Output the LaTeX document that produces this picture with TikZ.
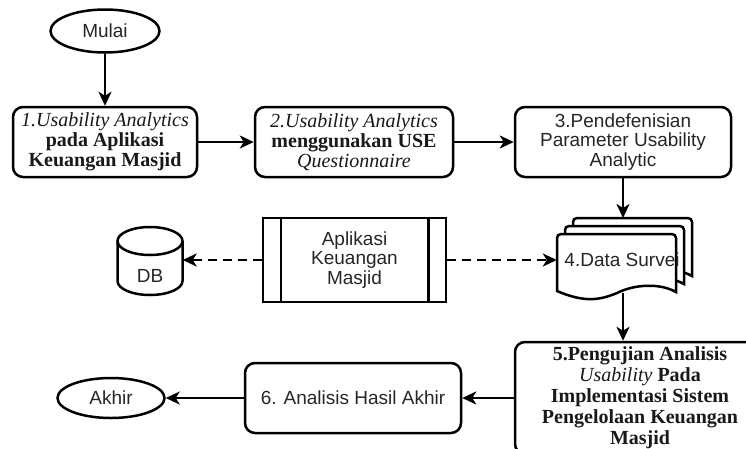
\documentclass[tikz,border=0pt]{standalone}
\usepackage{fontspec}
\setmainfont{Liberation Serif}
\setsansfont{Liberation Sans}
\usetikzlibrary{arrows.meta,shapes.geometric,calc}
\newcommand\itl[1]{{\mdseries\itshape #1}}
\begin{document}
\begin{tikzpicture}[x=1pt,y=-1pt,
  lw/.style={line width=2.5pt},
  box/.style={draw, lw, rounded corners=10pt, align=center, inner sep=0pt},
  serif/.style={font=\fontsize{20}{20}\selectfont\rmfamily\bfseries, text=black!90},
  sans/.style={font=\fontsize{19}{19.5}\selectfont\sffamily, text=black!85},
  term/.style={draw, lw, ellipse, inner sep=0pt, sans},
  arr/.style={lw, -{Stealth[length=14pt,width=13pt,inset=4pt]}},
  darr/.style={arr, dash pattern=on 9pt off 6pt},
]
\useasboundingbox[fill=white] (0,0) rectangle (746,448);

% terminals
\node[term, minimum width=109pt, minimum height=43pt] (start) at (105,31) {Mulai};
\node[term, minimum width=107pt, minimum height=40pt] (stop) at (111,398) {Akhir};

% process boxes
\node[box, serif, minimum width=184pt, minimum height=70pt] (b1) at (105,142)
  {\itl{1.Usability Analytics}\\pada Aplikasi\\Keuangan Masjid};
\node[box, serif, minimum width=198pt, minimum height=70pt] (b2) at (354,142)
  {\itl{2.Usability Analytics}\\menggunakan USE\\\itl{Questionnaire}};
\node[box, sans, minimum width=216pt, minimum height=70pt] (b3) at (623,142)
  {3.Pendefenisian\\Parameter Usability\\Analytic};
\node[box, serif, font=\fontsize{20}{21}\selectfont\rmfamily\bfseries, minimum width=250pt, minimum height=112pt] (b5) at (640,398)
  {5.Pengujian Analisis\\\itl{Usability} Pada\\Implementasi Sistem\\Pengelolaan Keuangan\\Masjid};
\node[box, sans, minimum width=216pt, minimum height=70pt] (b6) at (353,398)
  {6. Analisis Hasil Akhir};

% predefined process
\node[draw, lw, sans, align=center, inner sep=0pt, minimum width=183pt, minimum height=84pt] (app) at (354.5,260)
  {Aplikasi\\Keuangan\\Masjid};
\draw[lw] ($(app.north west)+(19,0)$) -- ($(app.south west)+(19,0)$);
\draw[lw] ($(app.north east)+(-19,0)$) -- ($(app.south east)+(-19,0)$);

% database cylinder
\node[minimum width=65pt, minimum height=68pt, inner sep=0pt] (db) at (150,260) {};
\draw[lw, fill=white] (117.5,241) -- (117.5,281)
  arc[start angle=180, end angle=0, x radius=32.5, y radius=14] -- (182.5,241);
\draw[lw] (150,241) ellipse [x radius=32.5, y radius=14];
\node[sans] (dbt) at (150,276) {DB};

% multi-document
\foreach \d in {16,8,0}{
  \begin{scope}[shift={(\d,-\d)}]
    \draw[lw, fill=white] (557,291) [rounded corners=4pt] -- (557,234) -- (676,234) [sharp corners] -- (676,292)
      .. controls (660,283) and (635,284) .. (617,293)
      .. controls (600,300) and (585,303) .. (557,291) -- cycle;
  \end{scope}
}
\node[minimum width=119pt, minimum height=58pt, inner sep=0pt] (docbox) at (616.5,263) {};
\node[sans] (doct) at (622,260) {4.Data Survei};
\coordinate (doctop) at (623,218);
\coordinate (docbot) at (623,293);

% connectors
\draw[arr] (start) -- (b1);
\draw[arr] (b1) -- (b2);
\draw[arr] (b2) -- (b3);
\draw[arr] (b3) -- (doctop);
\draw[arr] (docbot) -- (docbot |- b5.north);
\draw[arr] (b5) -- (b6);
\draw[arr] (b6) -- (stop);
\draw[darr] (app.east) -- (app.east -| docbox.west);
\draw[darr] (app.west) -- (db.east);
\end{tikzpicture}
\end{document}
